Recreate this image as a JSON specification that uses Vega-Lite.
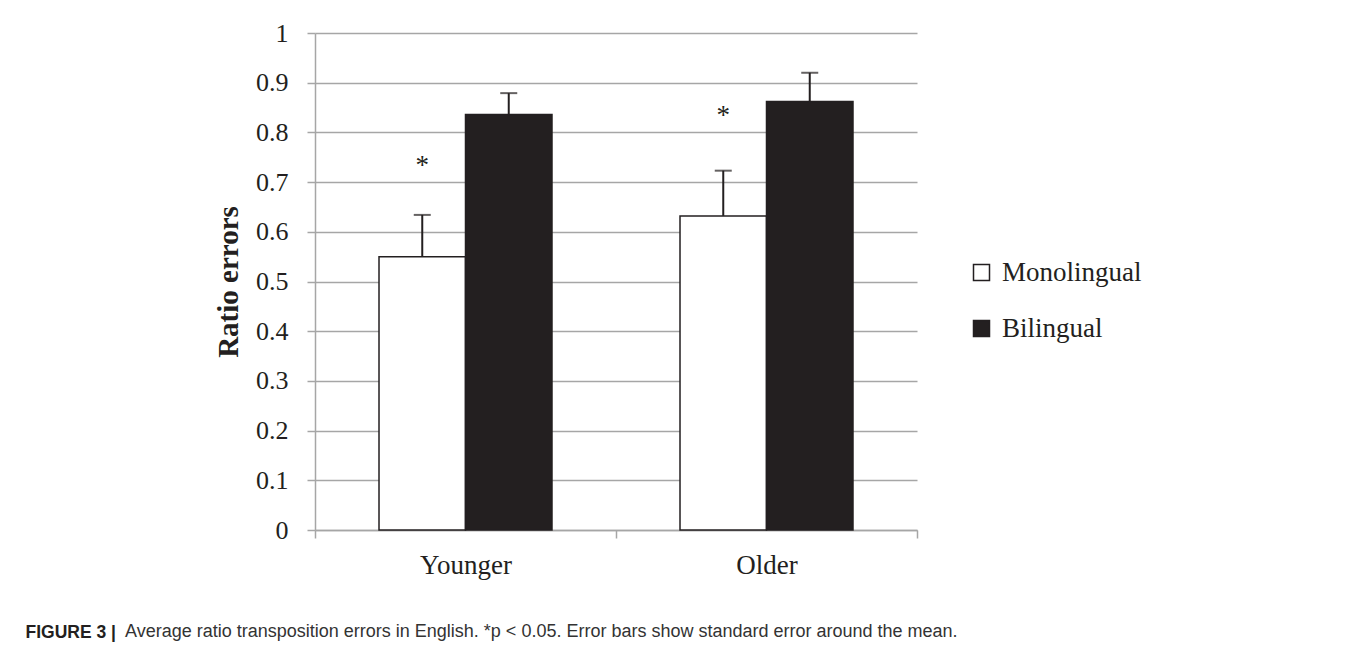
{
  "$schema": "https://vega.github.io/schema/vega-lite/v6.json",
  "width": 602,
  "height": 497,
  "autosize": {"type": "none"},
  "padding": {"left": 315, "top": 33, "right": 438, "bottom": 120},
  "background": "white",
  "config": {
    "font": "Liberation Serif",
    "view": {"stroke": null}
  },
  "datasets": {
    "means": [
      {"group": "Younger", "lang": "Monolingual", "mean": 0.55, "upper": 0.634},
      {"group": "Younger", "lang": "Bilingual", "mean": 0.836, "upper": 0.879},
      {"group": "Older", "lang": "Monolingual", "mean": 0.632, "upper": 0.723},
      {"group": "Older", "lang": "Bilingual", "mean": 0.862, "upper": 0.92}
    ],
    "signif": [
      {"group": "Younger", "lang": "Monolingual", "label": "*", "pos": 0.732},
      {"group": "Older", "lang": "Monolingual", "label": "*", "pos": 0.832}
    ]
  },
  "title": {
    "text": "Average ratio transposition errors in English. *p < 0.05. Error bars show standard error around the mean.",
    "orient": "bottom",
    "anchor": "start",
    "frame": "group",
    "dx": -190,
    "offset": -4,
    "baseline": "alphabetic",
    "font": "Liberation Sans",
    "fontSize": 18,
    "fontWeight": "normal",
    "color": "#333333"
  },
  "encoding": {
    "x": {
      "field": "group",
      "type": "nominal",
      "sort": ["Younger", "Older"],
      "scale": {"paddingInner": 0, "paddingOuter": 0},
      "axis": {
        "title": "FIGURE 3 |",
        "titleFont": "Liberation Sans",
        "titleFontSize": 17.5,
        "titleFontWeight": "bold",
        "titleColor": "#231f20",
        "titleX": -290,
        "titleY": 107,
        "titleAlign": "left",
        "titleBaseline": "alphabetic",
        "labelAngle": 0,
        "labelFont": "Liberation Serif",
        "labelFontSize": 27,
        "labelColor": "#231f20",
        "labelPadding": 14,
        "tickBand": "extent",
        "tickSize": 8,
        "tickWidth": 1.5,
        "tickColor": "#a6a6a6",
        "domainColor": "#a6a6a6",
        "domainWidth": 1.5
      }
    },
    "xOffset": {
      "field": "lang",
      "type": "nominal",
      "sort": ["Monolingual", "Bilingual"],
      "scale": {"paddingInner": 0, "paddingOuter": 0.74}
    }
  },
  "layer": [
    {
      "data": {"name": "means"},
      "mark": {"type": "bar", "stroke": "#231f20", "strokeWidth": 1.5},
      "encoding": {
        "y": {
          "field": "mean",
          "type": "quantitative",
          "title": "Ratio errors",
          "scale": {"domain": [0, 1]},
          "axis": {
            "values": [0, 0.1, 0.2, 0.3, 0.4, 0.5, 0.6, 0.7, 0.8, 0.9, 1],
            "format": "~g",
            "grid": true,
            "gridColor": "#a6a6a6",
            "gridWidth": 1.5,
            "domainColor": "#a6a6a6",
            "domainWidth": 1.5,
            "tickColor": "#a6a6a6",
            "tickWidth": 1.5,
            "tickSize": 8,
            "labelFont": "Liberation Serif",
            "labelFontSize": 26,
            "labelColor": "#231f20",
            "labelPadding": 19,
            "titleFont": "Liberation Serif",
            "titleFontSize": 29,
            "titleFontWeight": "bold",
            "titleColor": "#231f20",
            "titlePadding": 12
          }
        },
        "color": {
          "field": "lang",
          "type": "nominal",
          "scale": {"domain": ["Monolingual", "Bilingual"], "range": ["#ffffff", "#231f20"]},
          "legend": {
            "orient": "none",
            "legendX": 653,
            "legendY": 226,
            "title": null,
            "padding": 0,
            "labelFont": "Liberation Serif",
            "labelFontSize": 27,
            "labelColor": "#231f20",
            "labelOffset": 7,
            "rowPadding": 28,
            "symbolType": "square",
            "symbolSize": 256,
            "symbolStrokeColor": "#231f20",
            "symbolStrokeWidth": 1.5
          }
        }
      }
    },
    {
      "data": {"name": "means"},
      "mark": {"type": "rule", "color": "#231f20", "strokeWidth": 2},
      "encoding": {
        "y": {"field": "mean", "type": "quantitative", "title": "Ratio errors"},
        "y2": {"field": "upper"}
      }
    },
    {
      "data": {"name": "means"},
      "mark": {"type": "tick", "orient": "horizontal", "color": "#231f20", "size": 17, "thickness": 2},
      "encoding": {
        "y": {"field": "upper", "type": "quantitative", "title": "Ratio errors"}
      }
    },
    {
      "data": {"name": "signif"},
      "mark": {"type": "text", "font": "Liberation Serif", "fontSize": 27, "color": "#231f20", "baseline": "middle", "align": "center"},
      "encoding": {
        "y": {"field": "pos", "type": "quantitative", "title": "Ratio errors"},
        "text": {"field": "label"}
      }
    }
  ]
}
